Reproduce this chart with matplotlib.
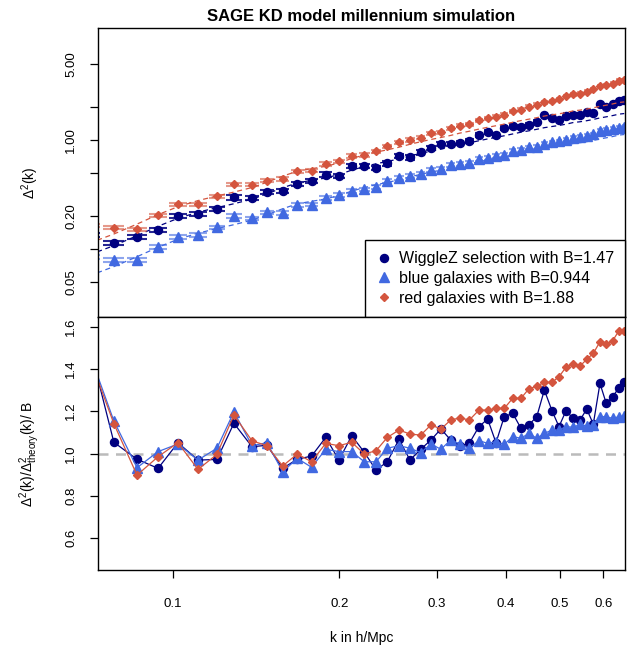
import numpy as np
import matplotlib
matplotlib.use("Agg")
import matplotlib.pyplot as plt

plt.rcParams['font.family'] = ['Liberation Sans', 'DejaVu Sans']
plt.rcParams['mathtext.fontset'] = 'custom'
plt.rcParams['mathtext.rm'] = 'Liberation Sans'
plt.rcParams['mathtext.it'] = 'Liberation Sans:italic'

# k bins (h/Mpc), first one lies just left of the plotted range
k = [0.0705, 0.0782, 0.0861, 0.0940, 0.1021, 0.1110, 0.1201, 0.1289, 0.1390, 0.1479,
     0.1579, 0.1678, 0.1781, 0.1889, 0.1996, 0.2105, 0.2218, 0.2329, 0.2441, 0.2563,
     0.2683, 0.2805, 0.2928, 0.3052, 0.3178, 0.3304, 0.3434, 0.3575, 0.3707, 0.3838,
     0.3972, 0.4114, 0.4259, 0.4399, 0.4548, 0.4694, 0.4846, 0.4989, 0.5135, 0.5297,
     0.5445, 0.5600, 0.5755, 0.5917, 0.6074, 0.6238, 0.6404, 0.6547]

# theory Delta^2(k)
theory = [0.060, 0.073, 0.090, 0.110, 0.130, 0.148, 0.163, 0.177, 0.195, 0.218,
          0.248, 0.275, 0.290, 0.305, 0.328, 0.360, 0.388, 0.412, 0.432, 0.457,
          0.486, 0.513, 0.538, 0.561, 0.586, 0.616, 0.640, 0.670, 0.696, 0.719,
          0.744, 0.773, 0.802, 0.826, 0.853, 0.883, 0.905, 0.925, 0.950, 0.985,
          1.000, 1.023, 1.050, 1.085, 1.110, 1.140, 1.175, 1.190]

# Delta^2 / Delta^2_theory / B
ratio_wigglez = [1.52, 1.053, 0.973, 0.930, 1.051, 0.969, 0.972, 1.143, 1.032, 1.039,
                 0.930, 0.973, 0.988, 1.076, 0.969, 1.084, 1.006, 0.922, 0.961, 1.067,
                 0.969, 1.020, 1.064, 1.116, 1.064, 1.035, 1.048, 1.127, 1.163, 1.051,
                 1.174, 1.190, 1.119, 1.135, 1.174, 1.300, 1.202, 1.127, 1.201, 1.166,
                 1.158, 1.210, 1.139, 1.331, 1.237, 1.268, 1.311, 1.339]
ratio_blue = [1.48, 1.154, 0.933, 1.009, 1.045, 0.969, 1.025, 1.197, 1.037, 1.051,
              0.914, 0.977, 0.935, 1.020, 1.009, 1.009, 0.961, 0.961, 1.025, 1.037,
              1.025, 1.004, 1.045, 1.020, 1.064, 1.045, 1.024, 1.061, 1.048, 1.056,
              1.043, 1.080, 1.072, 1.095, 1.072, 1.095, 1.111, 1.111, 1.127, 1.124,
              1.138, 1.130, 1.135, 1.174, 1.174, 1.166, 1.174, 1.177]
ratio_red = [1.46, 1.141, 0.898, 0.985, 1.051, 0.925, 0.996, 1.182, 1.060, 1.037,
             0.941, 0.998, 0.961, 1.048, 1.037, 1.053, 0.998, 1.013, 1.076, 1.111,
             1.092, 1.087, 1.135, 1.116, 1.158, 1.169, 1.158, 1.205, 1.205, 1.213,
             1.213, 1.261, 1.261, 1.305, 1.319, 1.336, 1.336, 1.363, 1.407, 1.423,
             1.413, 1.445, 1.473, 1.528, 1.517, 1.533, 1.580, 1.579]

# bias factors and relative errors
B_wigglez, B_blue, B_red = 1.47, 0.944, 1.88
err_wigglez, err_blue, err_red = 0.045, 0.04, 0.035

labels = ["WiggleZ selection with B=1.47", "blue galaxies with B=0.944",
          "red galaxies with B=1.88"]

navy = "#000080"
blue = "#4169E1"
red = "#D4553E"

k = np.array(k)
theory = np.array(theory)
series = [
    (np.array(ratio_wigglez), B_wigglez, err_wigglez, navy, 'o', 5.8, 0.85),
    (np.array(ratio_blue), B_blue, err_blue, blue, '^', 6.8, 0.6),
    (np.array(ratio_red), B_red, err_red, red, 'D', 4.0, 0.6),
]

# half width of the bars, from bin spacing
dk = np.gradient(k) * 0.45

fig = plt.figure(figsize=(6.34, 6.51), dpi=100)
ax1 = fig.add_axes([98/634, 1-317/651, 527/634, 289/651])
ax2 = fig.add_axes([98/634, 1-570/651, 527/634, 253/651])

for (r, B, e, c, m, ms, a), lab in zip(series, labels):
    d2 = r * B * theory
    ax1.plot(k, B * theory, ls=(0, (4, 3)), color=c, lw=0.9)
    ax1.hlines(d2 * (1 + e), k - dk, k + dk, color=c, alpha=a, lw=1.5)
    ax1.hlines(d2 * (1 - e), k - dk, k + dk, color=c, alpha=a, lw=1.5)
    ax1.plot(k, d2, ls='none', marker=m, ms=ms, color=c, mec=c, label=lab)

    ax2.plot(k, r, '-', marker=m, ms=ms, color=c, mec=c, lw=0.9)

ax2.axhline(1.0, color="#BBBBBB", ls=(0, (4, 3)), lw=1.8, zorder=0)

xlim = (0.0732, 0.6567)
for ax in (ax1, ax2):
    ax.set_xscale('log')
    ax.set_xlim(xlim)
    ax.minorticks_off()
    ax.tick_params(direction='out', length=6, width=0.9, labelsize=9.5)
    for s in ax.spines.values():
        s.set_linewidth(1.0)

ax1.set_yscale('log')
ax1.set_ylim(0.02377, 10.66)
ax1.minorticks_off()
ax1.set_yticks([0.05, 0.1, 0.2, 0.5, 1, 2, 5])
ax1.set_yticklabels(["0.05", "", "0.20", "", "1.00", "", "5.00"], rotation=90, va='center')
ax1.set_xticks([])

ax2.set_ylim(0.4497, 1.645)
ax2.set_yticks([0.6, 0.8, 1.0, 1.2, 1.4, 1.6])
ax2.set_yticklabels(["0.6", "0.8", "1.0", "1.2", "1.4", "1.6"], rotation=90, va='center')
ax2.set_xticks([0.1, 0.2, 0.3, 0.4, 0.5, 0.6])
ax2.set_xticklabels(["0.1", "0.2", "0.3", "0.4", "0.5", "0.6"])
ax2.tick_params(axis='x', pad=14)
ax1.tick_params(axis='y', pad=9)
ax2.tick_params(axis='y', pad=9)

leg = ax1.legend(loc='lower right', borderaxespad=0, fancybox=False, fontsize=11.5,
                 handletextpad=0.5, handlelength=0.9, borderpad=0.7, labelspacing=0.3,
                 framealpha=1)
leg.get_frame().set_edgecolor('black')
leg.get_frame().set_linewidth(1.0)

fig.text(0.570, 0.975, "SAGE KD model millennium simulation", ha='center', va='center',
         fontsize=12, fontweight='bold')
fig.text(0.570, 0.02, "k in h/Mpc", ha='center', va='center', fontsize=10)
fig.text(30/634, 1-183/651, r"$\Delta^2$(k)", rotation=90, ha='center', va='center', fontsize=10)
fig.text(30/634, 1-454/651, r"$\Delta^2$(k)/$\Delta^2_{\mathrm{theory}}$(k)/ B", rotation=90,
         ha='center', va='center', fontsize=10)

fig.savefig("out.png", dpi=100)
